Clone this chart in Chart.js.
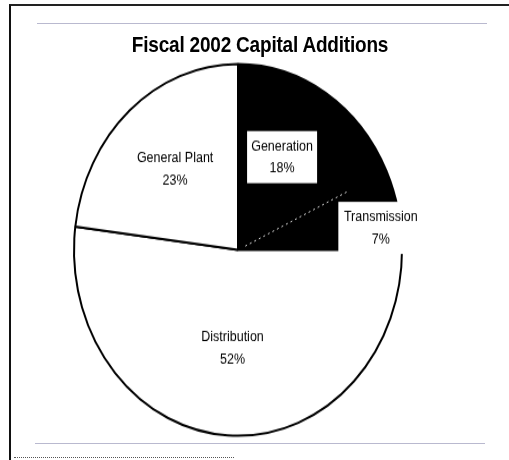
<!DOCTYPE html>
<html>
<head>
<meta charset="utf-8">
<script src="https://cdn.jsdelivr.net/npm/chart.js@4/dist/chart.umd.min.js"></script>
<style>
  body { margin: 0; background: #fff; width: 509px; height: 460px; overflow: hidden; position: relative;
         font-family: "Liberation Sans", Arial, sans-serif; }
  #frame { position: absolute; left: 9px; top: 4px; width: 520px; height: 480px;
           border-left: 2px solid #111; border-top: 2px solid #222; }
  .scan { position: absolute; height: 1px; background: #b9b9cf; }
  #dots { position: absolute; left: 14px; top: 457px; width: 220px; border-top: 1px dotted #555; }
  #stage { position: absolute; left: 0; top: 0; width: 509px; height: 406px;
           transform: scaleY(1.133); transform-origin: 0 0; }
  #title { position: absolute; left: 0; width: 520px; top: 28.5px; line-height: 22px;
           text-align: center; font-weight: bold; font-size: 19px; color: #000; letter-spacing: -0.2px; }
  #chart-wrap { position: absolute; left: 0; top: 0; width: 509px; height: 406px; }
</style>
</head>
<body>
<div id="frame"></div>
<div class="scan" style="left:37px; top:23px; width:450px;"></div>
<div class="scan" style="left:35px; top:443px; width:450px;"></div>
<div id="dots"></div>

<div id="stage">
  <div id="title">Fiscal 2002 Capital Additions</div>
  <div id="chart-wrap"><canvas id="chart-pie"></canvas></div>
</div>

<script>
// Data
const categories = ["Generation", "Transmission", "Distribution", "General Plant"];
const shares = [18, 7, 52, 23];
const fills = ["#000000", "#000000", "#ffffff", "#ffffff"];

// label placement: fraction of radius along slice mid-angle, plus small nudges
const labelRadius = [0.57, 0.88, 0.53, 0.58];
const labelNudge = [[-6, -3], [2, 12], [0, 0], [0, 0]];
const boxed = [true, true, false, false];

const sliceLabels = {
  id: "sliceLabels",
  afterDatasetsDraw(chart) {
    const ctx = chart.ctx;
    const arcs = chart.getDatasetMeta(0).data;

    // faint dotted divider between the two dark slices
    const div = arcs[0];
    ctx.save();
    ctx.strokeStyle = "#cfcfcf";
    ctx.lineWidth = 1;
    ctx.setLineDash([2, 3]);
    ctx.beginPath();
    ctx.moveTo(div.x + Math.cos(div.endAngle) * 8, div.y + Math.sin(div.endAngle) * 8);
    ctx.lineTo(div.x + Math.cos(div.endAngle) * div.outerRadius * 0.74,
               div.y + Math.sin(div.endAngle) * div.outerRadius * 0.74);
    ctx.stroke();
    ctx.restore();

    ctx.save();
    ctx.font = "12.5px 'Liberation Sans', Arial, sans-serif";
    ctx.textAlign = "center";
    ctx.textBaseline = "middle";
    arcs.forEach((arc, i) => {
      const mid = (arc.startAngle + arc.endAngle) / 2;
      const r = arc.outerRadius * labelRadius[i];
      const x = arc.x + Math.cos(mid) * r + labelNudge[i][0];
      const y = arc.y + Math.sin(mid) * r + labelNudge[i][1];
      if (boxed[i]) {
        const w = i === 1 ? 85 : 70;
        ctx.fillStyle = "#fff";
        ctx.fillRect(x - w / 2, y - 23, w, 46);
      }
      ctx.fillStyle = "#000";
      ctx.fillText(categories[i], x, y - 9.5);
      ctx.fillText(shares[i] + "%", x, y + 10);
    });
    ctx.restore();
  }
};

const pieChart = new Chart(document.getElementById("chart-pie").getContext("2d"), {
  type: "pie",
  data: {
    labels: categories,
    datasets: [{
      data: shares,
      backgroundColor: fills,
      borderColor: "#000",
      borderWidth: 2
    }]
  },
  options: {
    responsive: true,
    maintainAspectRatio: false,
    animation: false,
    layout: { padding: { top: 55.6, bottom: 20.4, left: 73, right: 106 } },
    plugins: { legend: { display: false }, tooltip: { enabled: false } }
  },
  plugins: [sliceLabels]
});
</script>
</body>
</html>
